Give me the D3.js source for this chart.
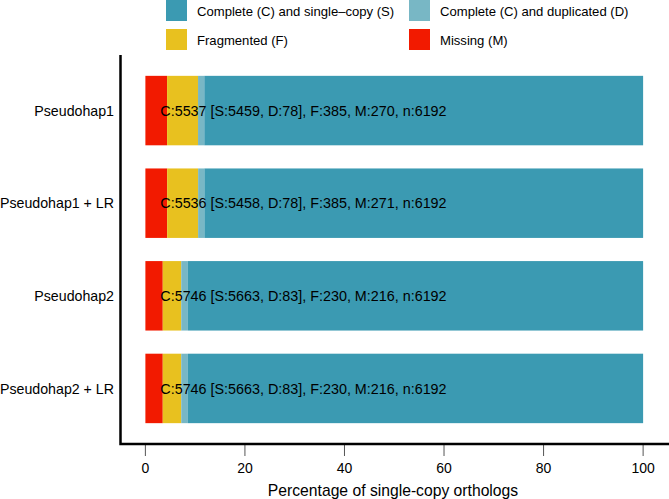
<!DOCTYPE html>
<html>
<head>
<meta charset="utf-8">
<script src="https://cdn.jsdelivr.net/npm/d3@7"></script>
<style>
  body { margin: 0; background: #fff; }
  svg { font-family: "Liberation Sans", Arial, sans-serif; }
</style>
</head>
<body>
<svg id="chart"></svg>
<script>
const assemblies = ["Pseudohap1", "Pseudohap1 + LR", "Pseudohap2", "Pseudohap2 + LR"];
const single = [5459, 5458, 5663, 5663];
const duplicated = [78, 78, 83, 83];
const fragmented = [385, 385, 230, 230];
const missing = [270, 271, 216, 216];
const total = [6192, 6192, 6192, 6192];
const xTicks = [0, 20, 40, 60, 80, 100];

const categories = ["M", "F", "D", "S"]; // stacking order, left to right
const legendOrder = ["S", "D", "F", "M"];
const labels = {
  S: "Complete (C) and single\u2013copy (S)",
  D: "Complete (C) and duplicated (D)",
  F: "Fragmented (F)",
  M: "Missing (M)"
};
const colors = { S: "#3B9AB2", D: "#78B7C5", F: "#E8C11F", M: "#F21A00" };

const width = 669, height = 499;
const panel = { left: 120.5, right: 668, top: 55, bottom: 444 };

const rows = assemblies.map((a, i) => ({
  name: a,
  S: single[i] / total[i] * 100,
  D: duplicated[i] / total[i] * 100,
  F: fragmented[i] / total[i] * 100,
  M: missing[i] / total[i] * 100,
  text: `C:${single[i] + duplicated[i]} [S:${single[i]}, D:${duplicated[i]}], F:${fragmented[i]}, M:${missing[i]}, n:${total[i]}`
}));

const svg = d3.select("#chart")
    .attr("width", width)
    .attr("height", height);

const x = d3.scaleLinear()
    .domain([-5, 105])
    .range([panel.left, panel.right]);

const y = d3.scaleBand()
    .domain(assemblies)
    .range([panel.top, panel.bottom])
    .paddingInner(0.25)
    .paddingOuter(0.225);

const series = d3.stack().keys(categories)(rows);

// bars
svg.append("g")
  .selectAll("g")
  .data(series)
  .join("g")
    .attr("fill", d => colors[d.key])
  .selectAll("rect")
  .data(d => d)
  .join("rect")
    .attr("x", d => x(d[0]))
    .attr("width", d => x(d[1]) - x(d[0]))
    .attr("y", d => y(d.data.name))
    .attr("height", y.bandwidth());

// text annotations
svg.append("g")
  .selectAll("text")
  .data(rows)
  .join("text")
    .attr("x", x(3))
    .attr("y", d => y(d.name) + y.bandwidth() / 2)
    .attr("dy", "0.36em")
    .attr("font-size", 14.35)
    .attr("fill", "#000")
    .text(d => d.text);

// y axis labels
svg.append("g")
  .selectAll("text")
  .data(assemblies)
  .join("text")
    .attr("x", 114)
    .attr("y", d => y(d) + y.bandwidth() / 2)
    .attr("dy", "0.36em")
    .attr("text-anchor", "end")
    .attr("font-size", 14.2)
    .attr("fill", "#000")
    .text(d => d);

// x axis ticks
const xAxis = svg.append("g");
xAxis.selectAll("line")
  .data(xTicks)
  .join("line")
    .attr("x1", d => x(d))
    .attr("x2", d => x(d))
    .attr("y1", panel.bottom)
    .attr("y2", panel.bottom + 12)
    .attr("stroke", "#555")
    .attr("stroke-width", 1);
xAxis.selectAll("text")
  .data(xTicks)
  .join("text")
    .attr("x", d => x(d))
    .attr("y", panel.bottom + 24)
    .attr("dy", "0.36em")
    .attr("text-anchor", "middle")
    .attr("font-size", 14)
    .attr("fill", "#000")
    .text(d => d);

svg.append("text")
    .attr("x", 393)
    .attr("y", 490)
    .attr("dy", "0.36em")
    .attr("text-anchor", "middle")
    .attr("font-size", 15.7)
    .attr("fill", "#000")
    .text("Percentage of single-copy orthologs");

// axis lines
svg.append("path")
    .attr("d", `M${panel.left},${panel.top}V${panel.bottom}H${width}`)
    .attr("fill", "none")
    .attr("stroke", "#000")
    .attr("stroke-width", 2.5);

// legend
const legendX = [166, 409];
const legendY = [0, 29];
svg.append("g")
  .selectAll("g")
  .data(legendOrder)
  .join("g")
    .attr("transform", (d, i) => `translate(${legendX[i % 2]},${legendY[Math.floor(i / 2)]})`)
    .call(g => g.append("rect")
        .attr("width", 21)
        .attr("height", 21)
        .attr("fill", d => colors[d]))
    .call(g => g.append("text")
        .attr("x", 31)
        .attr("y", 11)
        .attr("dy", "0.36em")
        .attr("font-size", 13.1)
        .attr("fill", "#000")
        .text(d => labels[d]));
</script>
</body>
</html>
